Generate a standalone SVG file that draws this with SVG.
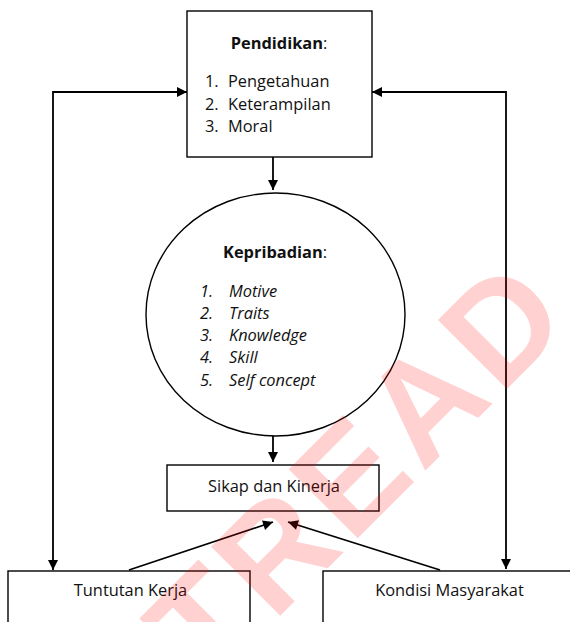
<svg xmlns="http://www.w3.org/2000/svg" width="570" height="622" viewBox="0 0 570 622">
  <defs>
    <marker id="arrow" viewBox="0 0 10 10" refX="10" refY="5" markerWidth="11" markerHeight="10" markerUnits="userSpaceOnUse" orient="auto-start-reverse">
      <path d="M0,0 L10,5 L0,10 Z" fill="#000"/>
    </marker>
    <style>
      .box { fill: #fff; stroke: #000; stroke-width: 1.4; }
      .link { fill: none; stroke: #000; stroke-width: 1.8; }
      text { font-family: "Open Sans", "Noto Sans", sans-serif; font-size: 16.4px; fill: #111; }
      .title { font-weight: bold; }
      .colon { font-weight: normal; }
      .it { font-style: italic; }
      .mid { text-anchor: middle; }
      .mark { font-family: "Liberation Sans", Arial, sans-serif; font-weight: bold; font-size: 142px; letter-spacing: 7px; fill: #ff0000; fill-opacity: 0.18; }
    </style>
  </defs>

  <rect width="570" height="622" fill="#fff"/>

  <!-- connectors -->
  <g id="connectors">
    <line class="link" x1="273" y1="157" x2="273" y2="190" marker-end="url(#arrow)"/>
    <line class="link" x1="273" y1="431" x2="273" y2="462" marker-end="url(#arrow)"/>
    <path class="link" d="M53,570 L53,92 L187,92" marker-start="url(#arrow)" marker-end="url(#arrow)"/>
    <path class="link" d="M506,569 L506,92 L372,92" marker-start="url(#arrow)" marker-end="url(#arrow)"/>
    <line class="link" x1="129" y1="570" x2="273" y2="522" marker-end="url(#arrow)"/>
    <line class="link" x1="440" y1="570" x2="288" y2="522" marker-end="url(#arrow)"/>
  </g>

  <!-- Pendidikan -->
  <g id="pendidikan">
    <rect class="box" x="187" y="11" width="185" height="146"/>
    <text class="title mid" x="279" y="49">Pendidikan<tspan class="colon">:</tspan></text>
    <text x="205" y="87">1.</text><text x="228" y="87">Pengetahuan</text>
    <text x="205" y="110">2.</text><text x="228" y="110">Keterampilan</text>
    <text x="205" y="132">3.</text><text x="228" y="132">Moral</text>
  </g>

  <!-- Kepribadian -->
  <g id="kepribadian">
    <ellipse class="box" cx="275.5" cy="314.5" rx="129.5" ry="121.5"/>
    <text class="title" x="223" y="258">Kepribadian<tspan class="colon">:</tspan></text>
    <text class="it" x="200" y="297">1.</text><text class="it" x="229" y="297">Motive</text>
    <text class="it" x="200" y="319">2.</text><text class="it" x="229" y="319">Traits</text>
    <text class="it" x="200" y="341">3.</text><text class="it" x="229" y="341">Knowledge</text>
    <text class="it" x="200" y="363">4.</text><text class="it" x="229" y="363">Skill</text>
    <text class="it" x="200" y="386">5.</text><text class="it" x="229" y="386">Self concept</text>
  </g>

  <!-- Sikap dan Kinerja -->
  <g id="sikap">
    <rect class="box" x="167" y="465" width="212" height="46"/>
    <text class="mid" x="274" y="492">Sikap dan Kinerja</text>
  </g>

  <!-- Tuntutan Kerja -->
  <g id="tuntutan">
    <rect class="box" x="8" y="571" width="242" height="70"/>
    <text class="mid" x="130.5" y="596">Tuntutan Kerja</text>
  </g>

  <!-- Kondisi Masyarakat -->
  <g id="kondisi">
    <rect class="box" x="323" y="571" width="260" height="70"/>
    <text class="mid" x="449.5" y="596">Kondisi Masyarakat</text>
  </g>

  <!-- watermark -->
  <text class="mark" transform="translate(500,396) rotate(-45)" x="110" text-anchor="end">UTREAD</text>
</svg>
